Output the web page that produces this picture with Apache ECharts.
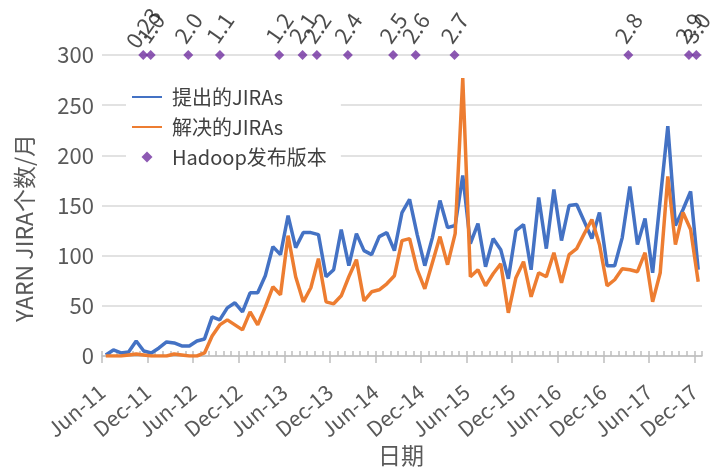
<!DOCTYPE html>
<html><head><meta charset="utf-8">
<script src="https://cdn.jsdelivr.net/npm/echarts@6/dist/echarts.min.js"></script>
<style>html,body{margin:0;padding:0;background:#fff}#c{width:721px;height:468px}</style>
</head><body><div id="c"></div>
<script>
// Month index 0 = Jun-11; ticks every 6 months
const tickLabels = ['Jun-11','Dec-11','Jun-12','Dec-12','Jun-13','Dec-13','Jun-14','Dec-14','Jun-15','Dec-15','Jun-16','Dec-16','Jun-17','Dec-17'];
// Monthly values Jun-11 .. Dec-17
const created = [1,6,3,4,15,5,3,8,14,13,
  10,10,15,17,39,36,48,53,44,63,
  63,80,109,101,140,108,123,123,121,79,
  86,126,90,122,105,101,119,123,105,143,
  156,121,90,118,155,128,130,180,112,132,
  89,117,106,77,125,131,86,158,107,166,
  115,150,151,134,117,143,90,90,118,169,
  111,137,83,156,229,130,146,164,86];
const resolved = [0,0,0,1,2,1,0,0,0,2,
  1,0,0,3,20,31,36,31,26,44,
  31,49,69,61,120,79,54,68,97,54,
  52,60,79,96,55,64,66,72,80,115,
  117,86,67,93,119,91,122,277,79,86,
  70,82,92,43,78,94,59,83,79,103,
  73,101,107,122,136,111,70,76,87,86,
  84,103,54,83,179,111,143,126,74];
const releaseNames = ['0.23','1.0','2.0','1.1','1.2','2.1','2.2','2.4','2.5','2.6','2.7','2.8','2.9','3.0'];
const releaseMonths = [5.43,6.41,11.36,15.53,23.33,26.41,28.29,32.37,38.33,41.3,46.41,69.3,77.28,78.25];
const releaseLevel = 300;

const FONT = "'Noto Sans CJK SC','Noto Sans',sans-serif";
const pointOffset = 0.5;
const createdPts = created.map((v,i)=>[i+pointOffset, v]);
const resolvedPts = resolved.map((v,i)=>[i+pointOffset, v]);
const releasePts = releaseMonths.map(m=>[m, releaseLevel]);

const LABEL_ROT = 55, LABEL_DIST = 27;
const rad = LABEL_ROT*Math.PI/180;

const chart = echarts.init(document.getElementById('c'), null, {renderer:'canvas'});
chart.setOption({
  backgroundColor:'#fff',
  animation:false,
  textStyle:{fontFamily:FONT},
  grid:{left:102, right:19, top:55, bottom:112, containLabel:false},
  legend:{
    orient:'vertical', left:126, top:82, padding:[5,14,5,5], itemGap:10,
    itemWidth:30, itemHeight:11, backgroundColor:'#fff',
    textStyle:{fontSize:20, color:'#404040', fontFamily:FONT, padding:[0,0,0,5]},
    data:[
      {name:'提出的JIRAs', itemStyle:{opacity:0}},
      {name:'解决的JIRAs', itemStyle:{opacity:0}},
      {name:'Hadoop发布版本', icon:'path://M5,0L10,5L5,10L0,5Z'}
    ]
  },
  xAxis:[{
    type:'value', min:0, max:79, interval:6,
    axisLine:{show:true, lineStyle:{color:'#bfbfbf', width:1.5}},
    axisTick:{show:true, length:7, lineStyle:{color:'#bfbfbf', width:1.5}},
    axisLabel:{rotate:40, fontSize:21, color:'#595959', margin:33, showMaxLabel:false,
      formatter:v=>{const k=v/6; return Number.isInteger(k)&&tickLabels[k]?tickLabels[k]:'';}},
    splitLine:{show:false}
  },{
    type:'value', min:0, max:79, interval:1, position:'bottom',
    axisLine:{show:false}, axisLabel:{show:false}, splitLine:{show:false},
    axisTick:{show:true, inside:true, length:5, lineStyle:{color:'#bfbfbf', width:1.5}}
  }],
  yAxis:{
    type:'value', min:0, max:300, interval:50,
    axisLine:{show:false}, axisTick:{show:false},
    axisLabel:{fontSize:22, color:'#595959', margin:8},
    splitLine:{lineStyle:{color:'#d9d9d9', width:1.5}}
  },
  graphic:[
    {type:'text', x:401, y:455, style:{text:'日期', font:"23px "+FONT, fill:'#595959', align:'center', verticalAlign:'middle'}},
    {type:'text', x:24, y:228, rotation:Math.PI/2, style:{text:'YARN JIRA个数/月', font:"23px "+FONT, fill:'#595959', align:'center', verticalAlign:'middle'}}
  ],
  series:[
    {name:'提出的JIRAs', type:'line', xAxisIndex:0, data:createdPts, symbol:'none', showSymbol:false,
      lineStyle:{color:'#4472C4', width:3.5}, itemStyle:{color:'#4472C4'}},
    {name:'解决的JIRAs', type:'line', xAxisIndex:0, data:resolvedPts, symbol:'none', showSymbol:false,
      lineStyle:{color:'#ED7D31', width:3.5}, itemStyle:{color:'#ED7D31'}},
    {name:'Hadoop发布版本', type:'scatter', xAxisIndex:0, data:releasePts, symbol:'diamond', symbolSize:10, clip:false,
      itemStyle:{color:'#7030A0'},
      label:{show:true, position:'inside', rotate:LABEL_ROT,
        offset:[LABEL_DIST*Math.sin(rad), -LABEL_DIST*Math.cos(rad)],
        fontSize:22, color:'#1f1f1f', fontFamily:FONT,
        formatter:p=>releaseNames[p.dataIndex]}}
  ]
});
</script></body></html>
